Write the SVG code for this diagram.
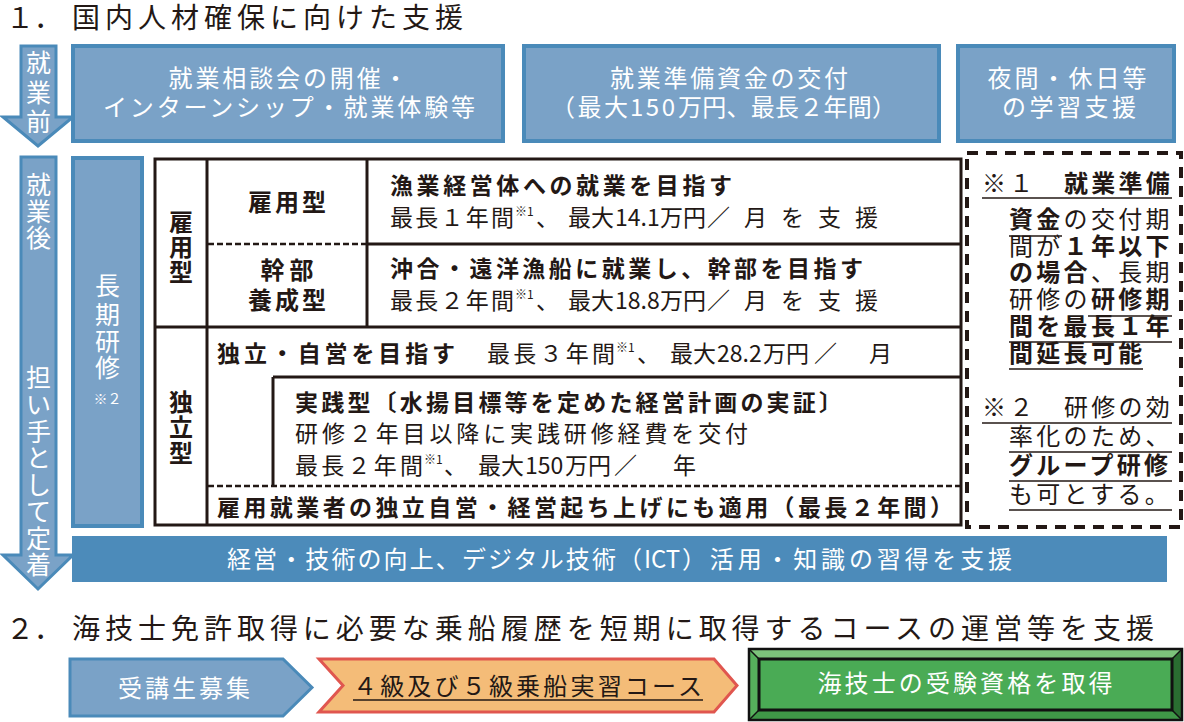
<svg xmlns="http://www.w3.org/2000/svg" width="1184" height="722" viewBox="0 0 1184 722">
<style>
.t{font-family:'Noto Sans CJK JP','Noto Sans CJK SC',sans-serif;}
.w{fill:#ffffff}
.k{fill:#231815}
.b{font-weight:bold}
.box{fill:#7aa2c7;stroke:#4a8ab9;stroke-width:4}
.arr{fill:#7aa2c7;stroke:#4a8ab9;stroke-width:3;stroke-linejoin:miter}
.tl{stroke:#231815;stroke-width:3;fill:none}
.dl{stroke:#231815;stroke-width:2.5;stroke-dasharray:6 3;fill:none}
.ul{stroke:#231815;stroke-width:1.5}
.f23{font-size:23px}
.f24{font-size:24px}
.f25{font-size:25px}
.f28{font-size:28px}
.sup{font-size:12px}
.note{font-size:24px;letter-spacing:3.3px}
</style>
<rect width="1184" height="722" fill="#ffffff"/>

<g id="title1">
<text x="6" y="28" class="t k f28">１．</text>
<text x="72" y="28" class="t k f28" textLength="391" lengthAdjust="spacing">国内人材確保に向けた支援</text>
</g>

<g id="arrow-before">
<polygon class="arr" points="21,46 56,46 56,117 73,117 38,146 3,117 21,117"/>
<text class="t w f25" text-anchor="middle"><tspan x="38.5" y="72">就</tspan><tspan x="38.5" y="102">業</tspan><tspan x="38.5" y="131">前</tspan></text>
</g>

<g id="box-consult">
<rect class="box" x="73" y="46" width="430" height="95"/>
<text x="288" y="87" class="t w f24" text-anchor="middle" textLength="239" lengthAdjust="spacing">就業相談会の開催・</text>
<text x="289" y="116" class="t w f24" text-anchor="middle" textLength="372" lengthAdjust="spacing">インターンシップ・就業体験等</text>
</g>

<g id="box-fund">
<rect class="box" x="524" y="46" width="415" height="95"/>
<text x="729" y="87" class="t w f24" text-anchor="middle" textLength="238" lengthAdjust="spacing">就業準備資金の交付</text>
<text x="551" y="116" class="t w f24" textLength="77" lengthAdjust="spacing">（最大</text>
<text x="630" y="116" class="t w f24" textLength="45" lengthAdjust="spacing">150</text>
<text x="678" y="116" class="t w f24" textLength="218" lengthAdjust="spacing">万円、最長２年間）</text>
</g>

<g id="box-night">
<rect class="box" x="958" y="46" width="216" height="95"/>
<text x="1067" y="87" class="t w f24" text-anchor="middle" textLength="159" lengthAdjust="spacing">夜間・休日等</text>
<text x="1069" y="116" class="t w f24" text-anchor="middle" textLength="134" lengthAdjust="spacing">の学習支援</text>
</g>

<g id="arrow-after">
<polygon class="arr" points="21,157 56,157 56,555 73,555 38,589 3,555 21,555"/>
<text class="t w f25" text-anchor="middle"><tspan x="38.5" y="194">就</tspan><tspan x="38.5" y="221">業</tspan><tspan x="38.5" y="247">後</tspan></text>
<text class="t w f25" text-anchor="middle"><tspan x="38.5" y="387">担</tspan><tspan x="38.5" y="414">い</tspan><tspan x="38.5" y="441">手</tspan><tspan x="38.5" y="467">と</tspan><tspan x="38.5" y="494">し</tspan><tspan x="38.5" y="521">て</tspan><tspan x="38.5" y="548">定</tspan><tspan x="38.5" y="574">着</tspan></text>
</g>

<g id="box-longtraining">
<rect class="box" x="73" y="158" width="69" height="368"/>
<text class="t w f25" text-anchor="middle"><tspan x="107.5" y="295">長</tspan><tspan x="107.5" y="324">期</tspan><tspan x="107.5" y="351">研</tspan><tspan x="107.5" y="377">修</tspan></text>
<text x="107.5" y="404" class="t w" font-size="14" text-anchor="middle">※２</text>
</g>

<g id="table">
<g id="connectors">
<rect class="tl" x="155" y="159" width="806" height="366"/>
<line class="tl" x1="207" y1="159" x2="207" y2="525"/>
<line class="tl" x1="367" y1="159" x2="367" y2="327"/>
<line class="dl" x1="208" y1="244" x2="367" y2="244"/>
<line class="tl" x1="367" y1="244" x2="961" y2="244"/>
<line class="tl" x1="155" y1="327" x2="961" y2="327"/>
<line class="tl" x1="273" y1="377" x2="961" y2="377"/>
<line class="tl" x1="273" y1="377" x2="273" y2="486"/>
<line class="dl" x1="208" y1="486" x2="961" y2="486"/>
</g>
<g id="employ-type">
<text class="t k b f24" text-anchor="middle"><tspan x="181" y="231">雇</tspan><tspan x="181" y="256">用</tspan><tspan x="181" y="281">型</tspan></text>
</g>
<g id="employ-row">
<text x="287" y="211" class="t k b f24" text-anchor="middle" textLength="78" lengthAdjust="spacing">雇用型</text>
<text x="390" y="194" class="t k b f23" textLength="342" lengthAdjust="spacing">漁業経営体への就業を目指す</text>
<text x="390" y="226" class="t k f23" textLength="124" lengthAdjust="spacing">最長１年間</text>
<text x="515" y="216" class="t k sup">※1</text>
<text x="536" y="226" class="t k f23">、</text>
<text x="568" y="226" class="t k f23">最大</text>
<text x="615" y="226" class="t k f23">14.1</text>
<text x="660" y="226" class="t k f23">万円</text>
<text x="707" y="226" class="t k f23" textLength="171" lengthAdjust="spacing">／月を支援</text>
</g>
<g id="executive-row">
<text x="287" y="279" class="t k b f24" text-anchor="middle" textLength="53" lengthAdjust="spacing">幹部</text>
<text x="287" y="309" class="t k b f24" text-anchor="middle" textLength="78" lengthAdjust="spacing">養成型</text>
<text x="390" y="277" class="t k b f23" textLength="473" lengthAdjust="spacing">沖合・遠洋漁船に就業し、幹部を目指す</text>
<text x="390" y="309" class="t k f23" textLength="124" lengthAdjust="spacing">最長２年間</text>
<text x="515" y="299" class="t k sup">※1</text>
<text x="536" y="309" class="t k f23">、</text>
<text x="568" y="309" class="t k f23">最大</text>
<text x="615" y="309" class="t k f23">18.8</text>
<text x="660" y="309" class="t k f23">万円</text>
<text x="707" y="309" class="t k f23" textLength="171" lengthAdjust="spacing">／月を支援</text>
</g>
<g id="independent-type">
<text class="t k b f24" text-anchor="middle"><tspan x="181" y="411">独</tspan><tspan x="181" y="436">立</tspan><tspan x="181" y="462">型</tspan></text>
<text x="217" y="362" class="t k b f23" textLength="238" lengthAdjust="spacing">独立・自営を目指す</text>
<text x="487" y="362" class="t k f23" textLength="128" lengthAdjust="spacing">最長３年間</text>
<text x="616" y="352" class="t k sup">※1</text>
<text x="637" y="362" class="t k f23">、</text>
<text x="670" y="362" class="t k f23">最大</text>
<text x="717" y="362" class="t k f23">28.2</text>
<text x="763" y="362" class="t k f23">万円</text>
<text x="814" y="362" class="t k f23">／</text>
<text x="869" y="362" class="t k f23">月</text>
</g>
<g id="practice-row">
<text x="295" y="411" class="t k b f23" textLength="547" lengthAdjust="spacing">実践型〔水揚目標等を定めた経営計画の実証〕</text>
<text x="295" y="442" class="t k f23" textLength="453" lengthAdjust="spacing">研修２年目以降に実践研修経費を交付</text>
<text x="295" y="474" class="t k f23" textLength="128" lengthAdjust="spacing">最長２年間</text>
<text x="424" y="464" class="t k sup">※1</text>
<text x="444" y="474" class="t k f23">、</text>
<text x="478" y="474" class="t k f23">最大</text>
<text x="525" y="474" class="t k f23">150</text>
<text x="565" y="474" class="t k f23">万円</text>
<text x="614" y="474" class="t k f23">／</text>
<text x="673" y="474" class="t k f23">年</text>
</g>
<g id="employee-row">
<text x="217" y="516" class="t k b f23" textLength="736" lengthAdjust="spacing">雇用就業者の独立自営・経営起ち上げにも適用（最長２年間）</text>
</g>
</g>

<g id="notes">
<rect x="967" y="153" width="214" height="374" fill="none" stroke="#231815" stroke-width="4" stroke-dasharray="11 8"/>
<text x="982" y="192" class="t k note">※１　<tspan class="b">就業準備</tspan></text>
<text x="1009" y="228" class="t k note"><tspan class="b">資金</tspan>の交付期</text>
<text x="1009" y="255" class="t k note">間が<tspan class="b">１年以下</tspan></text>
<text x="1009" y="281" class="t k note"><tspan class="b">の場合</tspan>、長期</text>
<text x="1009" y="308" class="t k note">研修の<tspan class="b">研修期</tspan></text>
<text x="1009" y="335" class="t k note b">間を最長１年</text>
<text x="1009" y="362" class="t k note b">間延長可能</text>
<text x="982" y="416" class="t k note">※２　研修の効</text>
<text x="1009" y="445" class="t k note">率化のため、</text>
<text x="1009" y="474" class="t k note b">グループ研修</text>
<text x="1009" y="503" class="t k note">も可とする。</text>
<line class="ul" x1="982" y1="198" x2="1172" y2="198"/>
<line class="ul" x1="1009" y1="236" x2="1062" y2="236"/>
<line class="ul" x1="1088" y1="316" x2="1172" y2="316"/>
<line class="ul" x1="1009" y1="342" x2="1172" y2="342"/>
<line class="ul" x1="1009" y1="369" x2="1143" y2="369"/>
<line class="ul" x1="982" y1="423" x2="1172" y2="423"/>
<line class="ul" x1="1009" y1="452" x2="1172" y2="452"/>
<line class="ul" x1="1009" y1="481" x2="1172" y2="481"/>
<line class="ul" x1="1009" y1="510" x2="1172" y2="510"/>
</g>

<g id="bar-skills">
<rect x="72" y="536" width="1095" height="46" fill="#4c8bba"/>
<text x="227" y="568" class="t w f24" textLength="415" lengthAdjust="spacing">経営・技術の向上、デジタル技術（</text>
<text x="644" y="568" class="t w f24">ICT</text>
<text x="682" y="568" class="t w f24" textLength="330" lengthAdjust="spacing">）活用・知識の習得を支援</text>
</g>

<g id="title2">
<text x="6" y="639" class="t k f28">２．</text>
<text x="72" y="639" class="t k f28" textLength="1082" lengthAdjust="spacing">海技士免許取得に必要な乗船履歴を短期に取得するコースの運営等を支援</text>
</g>

<g id="step-recruit">
<polygon points="70,659 283,659 312,687.5 283,716 70,716" fill="#7aa2c7" stroke="#4a8ab9" stroke-width="3"/>
<text x="184" y="697" class="t w f24" text-anchor="middle" textLength="132" lengthAdjust="spacing">受講生募集</text>
</g>

<g id="step-course">
<polygon points="319,659 714,659 737,685.5 714,712 319,712 343,685.5" fill="#f4bc78" stroke="#e0564f" stroke-width="3"/>
<text x="353" y="695" class="t k f24" textLength="349" lengthAdjust="spacing">４級及び５級乗船実習コース</text>
<line class="ul" x1="353" y1="700" x2="703" y2="700"/>
</g>

<g id="step-license">
<polygon points="749,649 1182,649 1172,659 759,659" fill="#7cc37b"/>
<polygon points="749,649 759,659 759,710 749,720" fill="#56b05c"/>
<polygon points="1182,649 1182,720 1172,710 1172,659" fill="#2a6d31"/>
<polygon points="749,720 759,710 1172,710 1182,720" fill="#3f9747"/>
<rect x="759" y="659" width="413" height="51" fill="#4aab55" stroke="#111111" stroke-width="3"/>
<rect x="749" y="649" width="433" height="71" fill="none" stroke="#111111" stroke-width="2.5"/>
<g stroke="#111111" stroke-width="1.5">
<line x1="749" y1="649" x2="759" y2="659"/>
<line x1="1182" y1="649" x2="1172" y2="659"/>
<line x1="749" y1="720" x2="759" y2="710"/>
<line x1="1182" y1="720" x2="1172" y2="710"/>
</g>
<text x="965" y="692" class="t w f24" text-anchor="middle" textLength="295" lengthAdjust="spacing">海技士の受験資格を取得</text>
</g>
</svg>
